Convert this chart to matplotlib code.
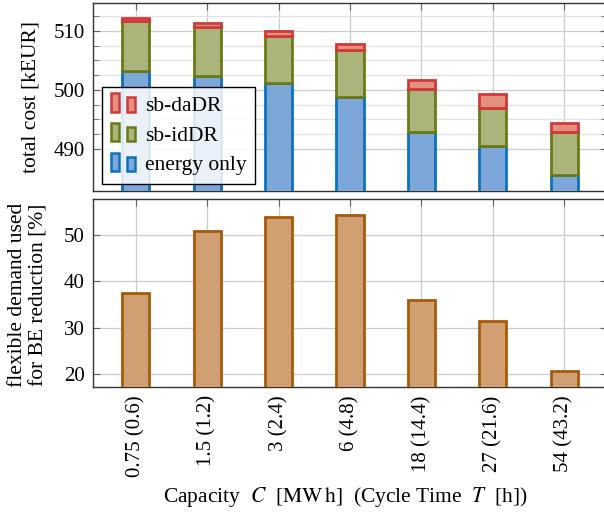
import matplotlib
matplotlib.use("Agg")
import matplotlib.pyplot as plt
from matplotlib.patches import Rectangle
from matplotlib.legend_handler import HandlerBase
from matplotlib.ticker import FixedLocator

plt.rcParams['font.family'] = ['Liberation Serif', 'DejaVu Serif']
plt.rcParams['mathtext.fontset'] = 'stix'

categories = ["0.75 (0.6)", "1.5 (1.2)", "3 (2.4)", "6 (4.8)", "18 (14.4)", "27 (21.6)", "54 (43.2)"]
energy_only = [503.2, 502.4, 501.1, 498.8, 492.9, 490.5, 485.6]
sb_idDR = [8.4, 8.2, 8.1, 7.9, 7.2, 6.4, 7.2]
sb_daDR = [0.6, 0.7, 0.8, 1.0, 1.6, 2.4, 1.6]
flex_share = [37.4, 50.8, 54.0, 54.4, 36.0, 31.5, 20.6]

blue_e, blue_f = '#0B72BC', '#7EA7D9'
green_e, green_f = '#6B7A14', '#ABB47B'
red_e, red_f = '#D2393A', '#E2917F'
brown_e, brown_f = '#A65B0B', '#D1A072'

FS = 15.5
TFS = 15

fig = plt.figure(figsize=(6.04, 5.17), dpi=100)
W, H = 604, 517
ax1 = fig.add_axes([93 / W, 1 - 191 / H, 514 / W, 188 / H])
ax2 = fig.add_axes([93 / W, 1 - 387 / H, 514 / W, 188 / H])

x = list(range(len(categories)))
bw = 0.38
lw = 2.0

b1 = ax1.bar(x, energy_only, bw, color=blue_f, edgecolor=blue_e, linewidth=lw, zorder=3, label='energy only')
bottom2 = list(energy_only)
b2 = ax1.bar(x, sb_idDR, bw, bottom=bottom2, color=green_f, edgecolor=green_e, linewidth=lw, zorder=3, label='sb-idDR')
bottom3 = [a + b for a, b in zip(energy_only, sb_idDR)]
b3 = ax1.bar(x, sb_daDR, bw, bottom=bottom3, color=red_f, edgecolor=red_e, linewidth=lw, zorder=3, label='sb-daDR')

ax2.bar(x, flex_share, bw, color=brown_f, edgecolor=brown_e, linewidth=lw, zorder=3)

spine_c = '#333333'
for ax in (ax1, ax2):
    ax.set_xlim(-0.6, 6.6)
    ax.set_xticks(x)
    for s in ax.spines.values():
        s.set_color(spine_c)
        s.set_linewidth(1.0)
    ax.tick_params(which='both', direction='in', top=True, right=True, colors='#666666',
                   labelcolor='black', labelsize=TFS)
    ax.tick_params(which='major', length=5, width=0.8)
    ax.tick_params(which='minor', length=4, width=0.6)
    ax.grid(True, which='major', color='#cccccc', linewidth=0.9, zorder=0)
    ax.set_axisbelow(True)

ax1.set_ylim(482.9, 514.7)
ax1.set_yticks([490, 500, 510])
ax1.yaxis.set_minor_locator(FixedLocator([492.5, 495, 497.5, 502.5, 505, 507.5, 512.5]))
ax1.grid(True, which='minor', axis='y', color='#e2e2e2', linewidth=0.9, zorder=0)
ax1.set_xticklabels([])
ax1.tick_params(axis='y', pad=6)

ax2.set_ylim(17.2, 57.8)
ax2.set_yticks([20, 30, 40, 50])
ax2.set_xticklabels(categories, rotation=90)
ax2.tick_params(axis='x', pad=6)
ax2.tick_params(axis='y', pad=6)


class TwoBox(HandlerBase):
    def create_artists(self, legend, orig_handle, xdescent, ydescent, width, height, fontsize, trans):
        fc = orig_handle.get_facecolor()
        ec = orig_handle.get_edgecolor()
        y0 = -ydescent + height / 2 - 6.0
        rw = 0.30 * width
        r1 = Rectangle((-xdescent, y0), rw, 13.2, facecolor=fc, edgecolor=ec, linewidth=1.8, transform=trans)
        r2 = Rectangle((-xdescent + 0.62 * width, y0), rw, 10.4, facecolor=fc, edgecolor=ec, linewidth=1.8, transform=trans)
        return [r1, r2]


handles = [b3.patches[0], b2.patches[0], b1.patches[0]]
labels = ['sb-daDR', 'sb-idDR', 'energy only']
leg = ax1.legend(handles, labels, handler_map={type(b1.patches[0]): TwoBox()},
                 loc='lower left', bbox_to_anchor=(0.0175, 0.037), borderaxespad=0,
                 fontsize=FS, fancybox=False, handlelength=1.25, handletextpad=0.35,
                 labelspacing=0.45, borderpad=0.4, frameon=True)
fr = leg.get_frame()
fr.set_alpha(None)
fr.set_facecolor((1, 1, 1, 0.85))
fr.set_edgecolor('black')
fr.set_linewidth(1.0)
leg.set_zorder(5)

fig.text(31 / W, 1 - 97 / H, 'total cost [kEUR]', rotation=90, ha='center', va='center', fontsize=FS)
fig.text(28 / W, 1 - 295 / H, 'flexible demand used\nfor BE reduction [%]', rotation=90,
         ha='center', va='center', fontsize=FS, linespacing=1.2)
fig.text(345 / W, 1 - 497 / H, r'Capacity  $C$  [$\mathrm{MW\,h}$]  (Cycle Time  $T$  [h])',
         ha='center', va='center', fontsize=FS)

fig.savefig('out.png', dpi=100)
